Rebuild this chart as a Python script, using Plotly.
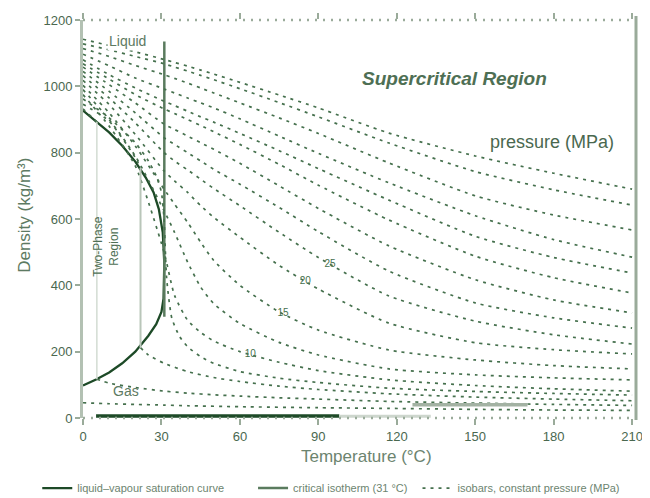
import plotly.graph_objects as go

# ---------------- data (CO2-like density chart) -------------
T_SC = [0, 10, 20, 31, 35, 40, 45, 50, 60, 75, 90, 117, 150, 180, 210]
RHO_80 = [1142, 1123, 1104, 1081, 1072, 1061, 1049, 1037, 1012, 974, 935, 859, 790, 738, 690]
RHO_70 = [1128, 1110, 1090, 1068, 1058, 1046, 1033, 1020, 993, 951, 908, 829, 743, 688, 642]
RHO_60 = [1114, 1090, 1063, 1035, 1024, 1010, 995, 980, 950, 905, 858, 769, 670, 612, 567]
RHO_50 = [1097, 1062, 1025, 992, 980, 965, 950, 935, 902, 850, 798, 709, 610, 538, 485]
RHO_45 = [1080, 1035, 995, 955, 942, 925, 908, 892, 858, 806, 752, 657, 548, 484, 437]
RHO_40 = [1068, 1022, 975, 932, 918, 900, 882, 863, 825, 765, 702, 597, 488, 423, 377]
RHO_35 = [1058, 1005, 950, 886, 870, 850, 830, 810, 768, 700, 632, 519, 417, 356, 317]
RHO_30 = [1045, 985, 920, 845, 825, 800, 775, 750, 705, 635, 562, 443, 347, 302, 271]
RHO_25 = [1032, 965, 890, 800, 775, 748, 720, 692, 640, 560, 484, 368, 292, 251, 223]
RHO_20 = [1018, 945, 855, 745, 715, 680, 640, 605, 545, 460, 389, 286, 227, 206, 193]
RHO_15 = [1003, 920, 820, 690, 645, 590, 530, 475, 400, 320, 265, 205, 175, 158, 148]
RHO_12 = [990, 900, 790, 625, 560, 470, 395, 345, 285, 228, 190, 148, 130, 121, 115]
RHO_10 = [975, 880, 760, 500, 370, 295, 258, 232, 200, 168, 143, 115, 98, 88, 81]

T_8 = [0, 10, 20, 25, 28, 30, 31, 32, 34, 37, 40, 45, 50, 60, 75, 90, 117, 150, 180, 210]
RHO_8 = [962, 905, 830, 775, 730, 680, 600, 420, 300, 245, 215, 185, 165, 140, 120, 107, 90, 80, 74, 69]

T_6_LIQ = [0, 10, 20, 22]
RHO_6_LIQ = [946, 895, 785, 754]
T_6_GAS = [22, 25, 31, 40, 50, 60, 75, 90, 117, 150, 180, 210]
RHO_6_GAS = [212, 190, 165, 140, 122, 110, 96, 86, 73, 63, 57, 52]

T_4_LIQ = [0, 5.3]
RHO_4_LIQ = [932, 893]
T_4_GAS = [5.3, 10, 20, 31, 40, 50, 60, 75, 90, 117, 150, 180, 210]
RHO_4_GAS = [117, 105, 92, 81, 75, 70, 66, 61, 57, 50, 45, 41, 38]

T_2 = [0, 10, 20, 31, 40, 60, 90, 117, 150, 180, 210]
RHO_2 = [46, 43, 41, 39, 37, 34, 31, 29, 26, 24, 23]

# saturation dome
T_SAT_LIQ = [0, 5, 10, 15, 20, 24, 27, 29, 30.5, 31.1]
RHO_SAT_LIQ = [927, 894, 861, 821, 773, 725, 680, 630, 560, 467]
T_SAT_VAP = [31.1, 30.8, 30, 28, 25, 20, 15, 10, 5, 0]
RHO_SAT_VAP = [467, 360, 320, 283, 248, 200, 165, 137, 116, 98]

# critical isotherm
T_CRIT = [31.1, 31.1]
RHO_CRIT = [305, 1135]

# low-density bars along the bottom
BAR_A_T = [5, 98]
BAR_A_RHO = [6, 6]
BAR_B_T = [98, 133]
BAR_B_RHO = [5, 5]
BAR_C_T = [126, 170]
BAR_C_RHO = [40, 40]

# pressure labels on curves (MPa)
LABEL_TXT = ["10", "15", "20", "25"]
LABEL_T = [64, 76.5, 85, 94.5]
LABEL_RHO = [190, 315, 412, 464]

X_TICKS = [0, 30, 60, 90, 120, 150, 180, 210]
Y_TICKS = [0, 200, 400, 600, 800, 1000, 1200]

# ---------------- styling -------------
DARK = "#1d4a27"
ISO = "#45704d"
GREY = "#9aab9a"
TXT = "#4a684f"
DASH = "3px,5px"

fig = go.Figure()

fig.add_trace(go.Scatter(x=T_SAT_LIQ + T_SAT_VAP[1:], y=RHO_SAT_LIQ + RHO_SAT_VAP[1:],
                         mode="lines", line=dict(color=DARK, width=2.3),
                         name="liquid\u2013vapour saturation curve", hoverinfo="skip",
                         legend="legend"))
fig.add_trace(go.Scatter(x=T_CRIT, y=RHO_CRIT, mode="lines",
                         line=dict(color="#5a7b5e", width=2.5),
                         name="critical isotherm (31 \u00b0C)", hoverinfo="skip",
                         legend="legend2"))

sc_curves = [RHO_80, RHO_70, RHO_60, RHO_50, RHO_45, RHO_40, RHO_35, RHO_30,
             RHO_25, RHO_20, RHO_15, RHO_12, RHO_10]
first = True
for rho in sc_curves:
    fig.add_trace(go.Scatter(x=T_SC, y=rho, mode="lines",
                             line=dict(color=ISO, width=1.7, dash=DASH, shape="spline", smoothing=0.6),
                             name="isobars, constant pressure (MPa)", legendgroup="iso",
                             showlegend=first, hoverinfo="skip", legend="legend3"))
    first = False

sub_curves = [(T_8, RHO_8), (T_6_LIQ, RHO_6_LIQ), (T_6_GAS, RHO_6_GAS),
              (T_4_LIQ, RHO_4_LIQ), (T_4_GAS, RHO_4_GAS), (T_2, RHO_2)]
for tx, rho in sub_curves:
    fig.add_trace(go.Scatter(x=tx, y=rho, mode="lines",
                             line=dict(color=ISO, width=1.7, dash=DASH, shape="spline", smoothing=0.6),
                             legendgroup="iso", showlegend=False, hoverinfo="skip"))

# vertical parts of subcritical isobars inside the dome
fig.add_trace(go.Scatter(x=[T_6_LIQ[-1], T_6_GAS[0]], y=[RHO_6_LIQ[-1], RHO_6_GAS[0]],
                         mode="lines", line=dict(color="#b9c6b9", width=2),
                         showlegend=False, hoverinfo="skip"))
fig.add_trace(go.Scatter(x=[T_4_LIQ[-1], T_4_GAS[0]], y=[RHO_4_LIQ[-1], RHO_4_GAS[0]],
                         mode="lines", line=dict(color="#d3dcd3", width=1.5),
                         showlegend=False, hoverinfo="skip"))

# bottom bars
fig.add_trace(go.Scatter(x=BAR_A_T, y=BAR_A_RHO, mode="lines", line=dict(color=DARK, width=3.5),
                         showlegend=False, hoverinfo="skip"))
fig.add_trace(go.Scatter(x=BAR_B_T, y=BAR_B_RHO, mode="lines", line=dict(color="#cdd6cd", width=3),
                         showlegend=False, hoverinfo="skip"))
fig.add_trace(go.Scatter(x=BAR_C_T, y=BAR_C_RHO, mode="lines", line=dict(color="#a3b2a3", width=3.5),
                         showlegend=False, hoverinfo="skip"))

# pressure labels
fig.add_trace(go.Scatter(x=LABEL_T, y=LABEL_RHO, mode="text", text=LABEL_TXT,
                         textfont=dict(size=10, color=ISO), showlegend=False, hoverinfo="skip"))

annotations = [
    dict(x=142, y=1023, text="<b><i>Supercritical Region</i></b>", showarrow=False,
         font=dict(size=19, color="#4e6f54")),
    dict(x=179.5, y=833, text="pressure (MPa)", showarrow=False,
         font=dict(size=18, color=TXT)),
    dict(x=17, y=1136, text="Liquid", showarrow=False,
         font=dict(size=14, color="#5d7a62"), bgcolor="white"),
    dict(x=9.0, y=515, text="Two-Phase<br>Region", showarrow=False, textangle=-90,
         font=dict(size=12, color="#4e6f54")),
    dict(x=16.5, y=80, text="Gas", showarrow=False,
         font=dict(size=14, color="#5d7a62")),
    # axis titles
    dict(xref="paper", yref="paper", x=0.512, y=-0.096, yanchor="middle",
         text="Temperature (\u00b0C)", showarrow=False,
         font=dict(size=17, color="#6c846f")),
    dict(xref="paper", yref="paper", x=-0.107, y=0.51, xanchor="center",
         text="Density (kg/m\u00b3)", showarrow=False, textangle=-90,
         font=dict(size=17, color="#5d7a62")),
]

shapes = [
    dict(type="line", xref="paper", yref="paper", x0=0, x1=1, y0=1, y1=1,
         line=dict(color=GREY, width=2.5, dash="2px,6px")),
    dict(type="line", xref="paper", yref="paper", x0=0, x1=1, y0=0, y1=0,
         line=dict(color=GREY, width=2.5, dash="2px,6px")),
    dict(type="line", xref="paper", yref="paper", x0=1, x1=1, y0=-0.005, y1=1.01,
         line=dict(color=GREY, width=3)),
]

LEG = dict(orientation="h", xref="container", yref="container", xanchor="left",
           y=0.036, yanchor="middle", font=dict(size=11, color="#6c846f"),
           itemwidth=30, bgcolor="rgba(0,0,0,0)")

fig.update_layout(
    width=650, height=498,
    margin=dict(l=75, r=22, t=12, b=88),
    paper_bgcolor="white", plot_bgcolor="white",
    font=dict(family="Liberation Sans, Arial, sans-serif", color=TXT, size=12),
    annotations=annotations, shapes=shapes,
    legend=dict(LEG, x=0.045),
    legend2=dict(LEG, x=0.377),
    legend3=dict(LEG, x=0.63),
    xaxis=dict(range=[0, 211.5], tickvals=X_TICKS, ticks="outside", ticklen=6, tickwidth=1.5,
               tickcolor=GREY, showline=True, linecolor="rgba(0,0,0,0)", mirror="ticks",
               showgrid=False, zeroline=False, automargin=False,
               tickfont=dict(size=13, color=TXT)),
    yaxis=dict(range=[0, 1200], tickvals=Y_TICKS, ticks="outside", ticklen=5, tickwidth=1.5,
               tickcolor=GREY, showline=True, linecolor="#b3c1b3", linewidth=3,
               showgrid=False, zeroline=False, automargin=False,
               tickfont=dict(size=13, color=TXT)),
)

fig.write_html("out.html")
